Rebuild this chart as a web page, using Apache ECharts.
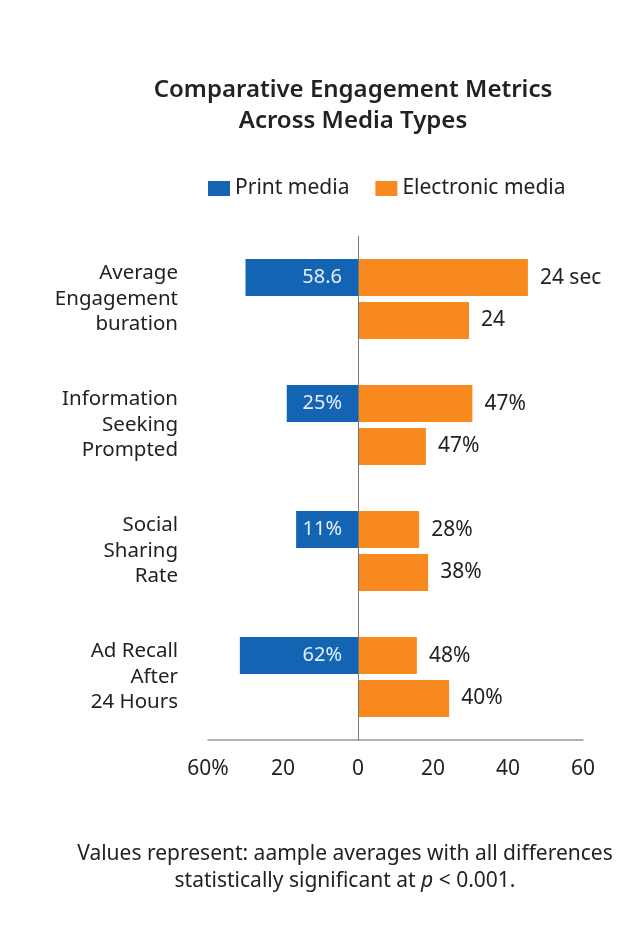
<html>
<head>
<meta charset="utf-8" />
<title>Comparative Engagement Metrics</title>
<script src="https://cdn.jsdelivr.net/npm/echarts@6/dist/echarts.min.js"></script>
<style type="text/css">
html, body { margin: 0; padding: 0; background: #fff; }
#main { width: 643px; height: 929px; }
</style>
</head>
<body>
<div id="main"></div>
<script type="text/javascript">
var categories = ["Average\nEngagement\nburation", "Information\nSeeking\nPrompted", "Social\nSharing\nRate", "Ad Recall\nAfter\n24 Hours"];
// bar lengths as drawn (print shown to the left of zero)
var printValues = [-30, -19, -16.5, -31.5];
var electronicValuesA = [45.3, 30.5, 16.3, 15.7];
var electronicValuesB = [29.6, 18.1, 18.7, 24.3];
// text printed on the bars
var printLabels = ["58.6", "25%", "11%", "62%"];
var electronicLabelsA = ["24 sec", "47%", "28%", "48%"];
var electronicLabelsB = ["24", "47%", "38%", "40%"];
var tickValues = [-40, -20, 0, 20, 40, 60];
var tickLabels = ["60%", "20", "0", "20", "40", "60"];

var myChart = echarts.init(document.getElementById("main"));
var font = "Noto Sans";
var blue = "#1464b4";
var orange = "#f7891e";

var option = {
	backgroundColor: "#fff",
	animation: false,
	textStyle: { fontFamily: font },
	title: {
		text: "Comparative Engagement Metrics\nAcross Media Types",
		left: 348,
		textAlign: "center",
		top: 70,
		textStyle: { fontSize: 24, fontWeight: 600, color: "#222", lineHeight: 31, fontFamily: font },
	},
	legend: {
		top: 173,
		left: 203,
		itemWidth: 22,
		itemHeight: 15,
		itemGap: 26,
		icon: "rect",
		textStyle: { fontSize: 21, color: "#222", fontFamily: font },
		data: ["Print media", "Electronic media"],
	},
	grid: { left: 208, right: 60, top: 236, bottom: 189, containLabel: false },
	xAxis: {
		type: "value",
		min: -40,
		max: 60,
		interval: 20,
		axisLine: { show: true, lineStyle: { color: "#999", width: 1.5 } },
		axisTick: { show: false },
		splitLine: { show: false },
		axisLabel: {
			margin: 19,
			fontSize: 21,
			color: "#222",
			formatter: function (v) {
				var i = tickValues.indexOf(v);
				return i >= 0 ? tickLabels[i] : "";
			},
		},
	},
	yAxis: {
		type: "category",
		inverse: true,
		data: categories,
		axisLine: { show: false },
		axisTick: { show: false },
		axisLabel: { margin: 30, fontSize: 20.5, color: "#222", lineHeight: 25.5, align: "right" },
	},
	series: [
		{
			name: "Print media",
			type: "bar",
			stack: "top",
			barWidth: 37,
			barGap: "16%",
			itemStyle: { color: blue },
			data: printValues,
			label: {
				show: true,
				position: "insideRight",
				distance: 16,
				color: "#e8eef8",
				fontSize: 20,
				formatter: function (p) { return printLabels[p.dataIndex]; },
			},
			markLine: {
				silent: true,
				symbol: "none",
				label: { show: false },
				lineStyle: { color: "#777", width: 1, type: "solid" },
				data: [{ xAxis: 0 }],
			},
		},
		{
			name: "Electronic media",
			type: "bar",
			stack: "top",
			barWidth: 37,
			itemStyle: { color: orange },
			data: electronicValuesA,
			label: {
				show: true,
				position: "right",
				distance: 12,
				color: "#222",
				fontSize: 21,
				formatter: function (p) { return electronicLabelsA[p.dataIndex]; },
			},
		},
		{
			name: "Electronic media",
			type: "bar",
			stack: "bottom",
			barWidth: 37,
			itemStyle: { color: orange },
			data: electronicValuesB,
			label: {
				show: true,
				position: "right",
				distance: 12,
				color: "#222",
				fontSize: 21,
				formatter: function (p) { return electronicLabelsB[p.dataIndex]; },
			},
		},
	],
	graphic: [
		{
			type: "text",
			x: 345,
			y: 841,
			style: {
				text: "Values represent: aample averages with all differences\nstatistically significant at {i|p} < 0.001.",
				rich: { i: { fontStyle: "italic", fontSize: 21, fontFamily: font, fill: "#222" } },
				font: "21px " + font,
				fill: "#222",
				align: "center",
				lineHeight: 27,
			},
		},
	],
};

myChart.setOption(option);
</script>
</body>
</html>
